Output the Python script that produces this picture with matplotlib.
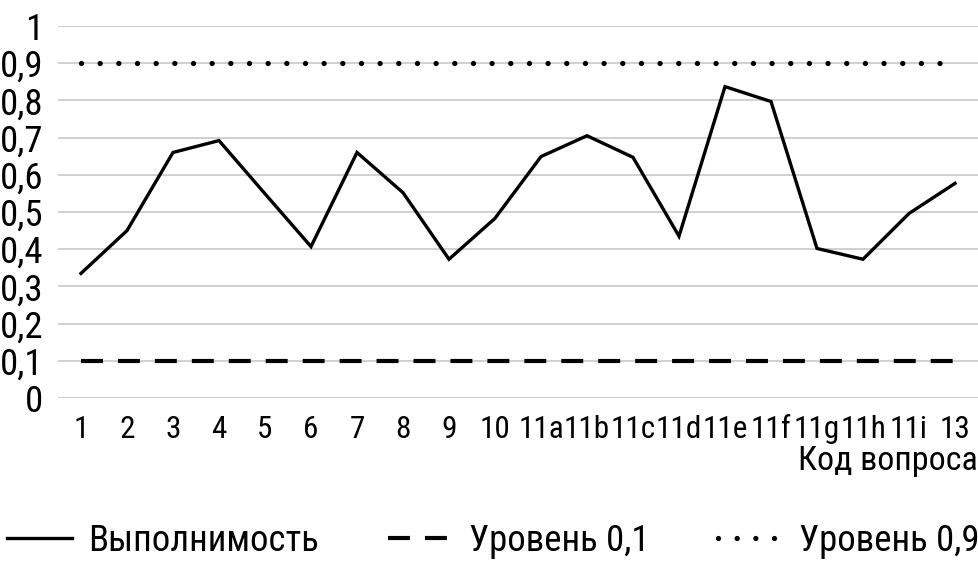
import numpy as np
import matplotlib.pyplot as plt
from matplotlib.ticker import FuncFormatter

# ---------------------------
# Global style
# ---------------------------
plt.rcParams.update({
    "font.family": ["Roboto Condensed", "DejaVu Sans"],
    "figure.dpi": 100,
})

# ---------------------------
# Data
# ---------------------------
QUESTIONS = ["1", "2", "3", "4", "5", "6", "7", "8", "9", "10",
             "11a", "11b", "11c", "11d", "11e", "11f", "11g", "11h", "11i", "13"]
FEASIBILITY = [0.335, 0.45, 0.66, 0.692, 0.549, 0.407, 0.66, 0.552, 0.373, 0.483,
               0.649, 0.705, 0.647, 0.435, 0.837, 0.797, 0.402, 0.373, 0.496, 0.577]
LEVEL_LOW = 0.1
LEVEL_HIGH = 0.9
Y_TICKS = [0, 0.1, 0.2, 0.3, 0.4, 0.5, 0.6, 0.7, 0.8, 0.9, 1.0]

COL_LINE = "black"
COL_GRID = "#d0d0d0"


def comma_fmt(v, pos):
    if abs(v - round(v)) < 1e-9:
        return f"{int(round(v))}"
    return f"{v:.1f}".replace(".", ",")


fig = plt.figure(figsize=(9.79, 5.64))
ax = fig.add_axes([58 / 979, 166 / 564, 920 / 979, 372 / 564])

x = np.arange(len(QUESTIONS))

ax.plot(x, FEASIBILITY, color=COL_LINE, lw=2.4, solid_joinstyle="miter",
        label="Выполнимость")

lw_dash = 3.0
ax.plot([x[0], x[-1]], [LEVEL_LOW, LEVEL_LOW], color=COL_LINE, lw=lw_dash,
        linestyle=(0, (15.8 / lw_dash, 10.8 / lw_dash)), dash_capstyle="butt",
        label="Уровень 0,1")

lw_dot = 3.8
ax.plot([x[0], x[-1]], [LEVEL_HIGH, LEVEL_HIGH], color=COL_LINE, lw=lw_dot,
        linestyle=(0, (0.01, 13.4 / lw_dot)), dash_capstyle="round",
        label="Уровень 0,9")

ax.set_xlim(-0.5, len(QUESTIONS) - 0.5)
ax.set_ylim(0, 1)
ax.set_xticks(x)
ax.set_xticklabels(QUESTIONS)
ax.set_yticks(Y_TICKS)
ax.yaxis.set_major_formatter(FuncFormatter(comma_fmt))

ax.tick_params(axis="x", length=0, labelsize=22.5, pad=12)
ax.tick_params(axis="y", length=0, labelsize=26.5, pad=10.5)

ax.grid(axis="y", color=COL_GRID, lw=1.4)
ax.set_axisbelow(True)
for s in ax.spines.values():
    s.set_visible(False)

ax.set_xlabel("Код вопроса", loc="right", fontsize=24.5, labelpad=1)

fig.legend(
    loc="center",
    bbox_to_anchor=(0.504, (564 - 541) / 564),
    ncol=3,
    frameon=False,
    fontsize=26.5,
    handlelength=1.77,
    handletextpad=0.43,
    columnspacing=1.88,
    borderpad=0,
    borderaxespad=0,
)

plt.savefig("out.png", dpi=100)
